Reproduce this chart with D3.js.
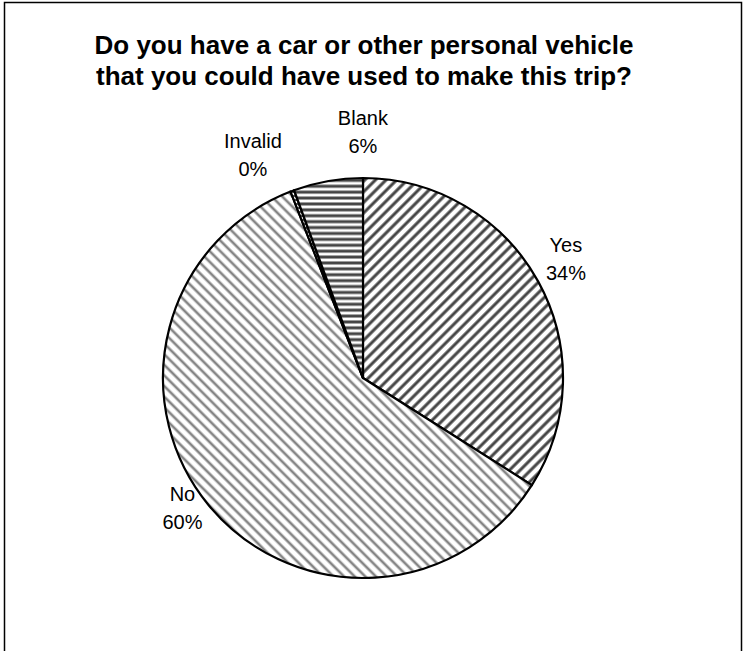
<!DOCTYPE html>
<html>
<head>
<meta charset="utf-8">
<script src="https://cdn.jsdelivr.net/npm/d3@7"></script>
<style>
  html, body { margin: 0; padding: 0; background: #fff; }
  svg { display: block; }
  text { font-family: "Liberation Sans", Arial, sans-serif; fill: #000; }
</style>
</head>
<body>
<svg id="chart" width="743" height="651"></svg>
<script>
// Survey answers, clockwise from 12 o'clock
const categories = ["Yes", "No", "Invalid", "Blank"];
const shares = [34.0, 60.1, 0.3, 5.6];
const titleLines = [
  "Do you have a car or other personal vehicle",
  "that you could have used to make this trip?"
];

const W = 743, H = 651;
const cx = 363, cy = 378, R = 200;

const svg = d3.select("#chart");

// chart frame (open at the bottom edge of the canvas)
svg.append("path")
  .attr("d", `M4.5,${H} V2.5 H741.5 V${H}`)
  .attr("fill", "none")
  .attr("stroke", "#000")
  .attr("stroke-width", 1.5);

// hatch fills
const defs = svg.append("defs");
function hatch(id, period, band, color, angle) {
  const p = defs.append("pattern")
    .attr("id", id)
    .attr("patternUnits", "userSpaceOnUse")
    .attr("width", 20)
    .attr("height", period)
    .attr("patternTransform", `rotate(${angle})`);
  p.append("rect").attr("width", 20).attr("height", period).attr("fill", "#fff");
  p.append("rect").attr("y", (period - band) / 2).attr("width", 20).attr("height", band).attr("fill", color);
}
hatch("fill-yes", 7.5, 3.0, "#454545", -45);
hatch("fill-no", 7.5, 2.6, "#858585", 45);
hatch("fill-invalid", 4, 2, "#555", 0);
hatch("fill-blank", 5.9, 3, "#444", 0);
const fills = {
  "Yes": "url(#fill-yes)",
  "No": "url(#fill-no)",
  "Invalid": "url(#fill-invalid)",
  "Blank": "url(#fill-blank)"
};

const data = categories.map((c, i) => ({ category: c, value: shares[i] }));
const pie = d3.pie().sort(null).value(d => d.value);
const arcs = pie(data);
const arc = d3.arc().innerRadius(0).outerRadius(R);

const g = svg.append("g").attr("transform", `translate(${cx},${cy})`);

g.selectAll("path.slice")
  .data(arcs)
  .join("path")
  .attr("class", "slice")
  .attr("d", arc)
  .attr("fill", d => fills[d.data.category])
  .attr("stroke", "#000")
  .attr("stroke-width", 2.2)
  .attr("stroke-linejoin", "round");

// outside labels along each slice's mid angle, with small offsets so
// the two thin slices near the top don't collide
const labelR = 235;
const nudge = { "Yes": [-3, -6], "No": [1, -19], "Invalid": [-27, -3], "Blank": [41, -15] };
const lineGap = 28;
const labels = g.selectAll("g.label")
  .data(arcs)
  .join("g")
  .attr("class", "label")
  .attr("transform", d => {
    const a = (d.startAngle + d.endAngle) / 2;
    const n = nudge[d.data.category];
    return `translate(${Math.sin(a) * labelR + n[0]},${-Math.cos(a) * labelR + n[1]})`;
  });
labels.append("text")
  .attr("text-anchor", "middle")
  .attr("font-size", 20)
  .attr("y", -lineGap / 2)
  .attr("dy", "0.35em")
  .text(d => d.data.category);
labels.append("text")
  .attr("text-anchor", "middle")
  .attr("font-size", 20)
  .attr("y", lineGap / 2)
  .attr("dy", "0.35em")
  .text(d => Math.round(d.data.value) + "%");

// title
svg.append("g")
  .selectAll("text")
  .data(titleLines)
  .join("text")
  .attr("x", 364)
  .attr("y", (d, i) => 45 + i * 31)
  .attr("dy", "0.35em")
  .attr("text-anchor", "middle")
  .attr("font-size", 26)
  .attr("font-weight", "bold")
  .text(d => d);
</script>
</body>
</html>
